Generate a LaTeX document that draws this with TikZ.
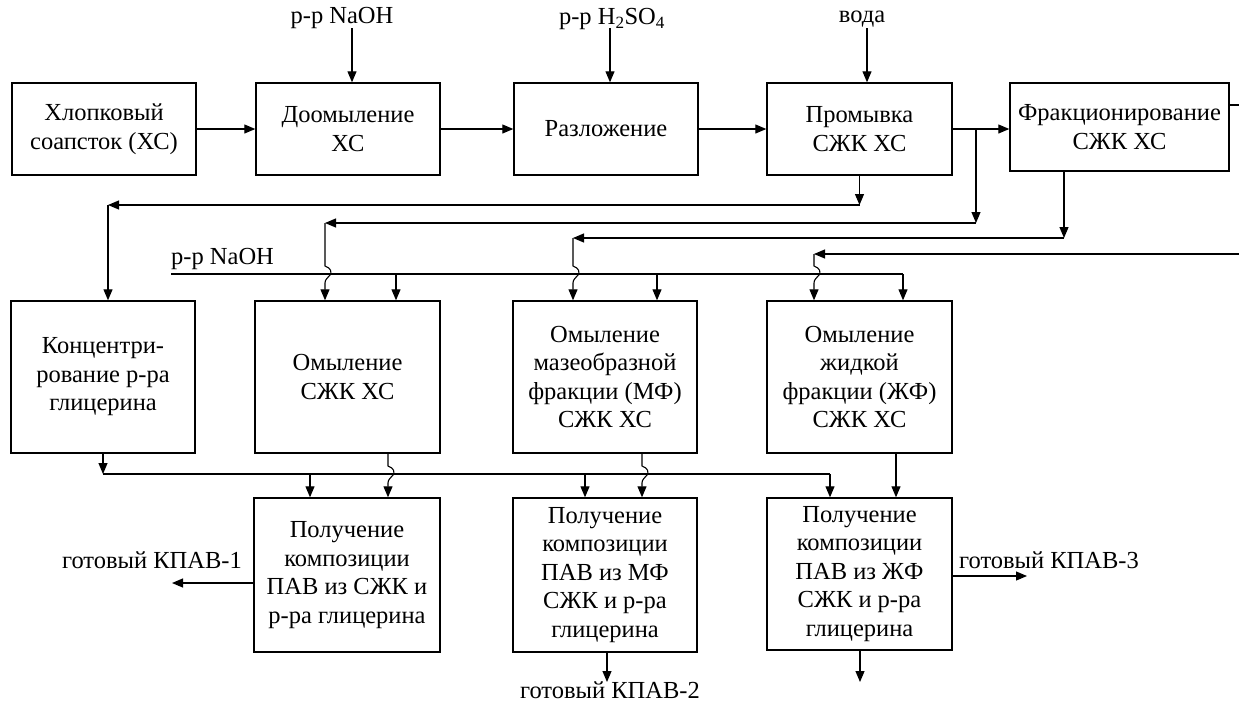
\documentclass[tikz,border=0pt]{standalone}
\usepackage{fontspec}
\setmainfont{Liberation Serif}
\usetikzlibrary{arrows.meta}
\newcommand\myhop[2]{-- (#1,#2-8) .. controls (#1+6,#2-6) and (#1+7,#2-2) .. (#1+5,#2+1) .. controls (#1+3,#2+4) and (#1,#2+5) .. (#1,#2+9)}
\tikzset{
  box/.style={draw, line width=1.4pt, align=center, inner sep=0pt, font=\fontsize{24.5}{28.5}\selectfont},
  arr/.style={-{Triangle[length=11pt,width=9pt]}, line width=1.1pt},
  ln/.style={line width=1.1pt},
  lbl/.style={font=\fontsize{24.5}{28.5}\selectfont, inner sep=0pt},
}
\begin{document}
\begin{tikzpicture}[x=1pt,y=-1pt]
\useasboundingbox (0,0) rectangle (1239,702);
% row 1
\node[box, minimum width=184pt, minimum height=92pt] (b1) at (104,129) {Хлопковый\\соапсток (ХС)};
\node[box, minimum width=184pt, minimum height=92pt] (b2) at (348,129) {Доомыление\\ХС};
\node[box, minimum width=184pt, minimum height=92pt] (b3) at (606,129) {Разложение};
\node[box, minimum width=185pt, minimum height=92pt] (b4) at (859.5,129) {Промывка\\СЖК ХС};
\node[box, minimum width=219pt, minimum height=88pt] (b5) at (1119.5,127) {Фракционирование\\СЖК ХС};
% row 2
\node[box, minimum width=184pt, minimum height=152pt] (c1) at (103,377) {Концентри-\\рование р-ра\\глицерина};
\node[box, minimum width=185pt, minimum height=152pt] (c2) at (347.5,377) {Омыление\\СЖК ХС};
\node[box, minimum width=184pt, minimum height=152pt] (c3) at (605,377) {Омыление\\мазеобразной\\фракции (МФ)\\СЖК ХС};
\node[box, minimum width=185pt, minimum height=152pt] (c4) at (859.5,377) {Омыление\\жидкой\\фракции (ЖФ)\\СЖК ХС};
% row 3
\node[box, minimum width=186pt, minimum height=154pt] (d1) at (347,575) {Получение\\композиции\\ПАВ из СЖК и\\р-ра глицерина};
\node[box, minimum width=184pt, minimum height=154pt] (d2) at (605,575) {Получение\\композиции\\ПАВ из МФ\\СЖК и р-ра\\глицерина};
\node[box, minimum width=185pt, minimum height=152pt] (d3) at (859.5,574) {Получение\\композиции\\ПАВ из ЖФ\\СЖК и р-ра\\глицерина};
% top labels
\node[lbl] (tn) at (342,18) {р-р NaOH};
\node[lbl] (th) at (612,19) {р-р H\textsubscript{2}SO\textsubscript{4}};
\node[lbl] (tv) at (862,19) {вода};
\coordinate (a1) at (352,28);
\coordinate (a2) at (610,28);
\coordinate (a3) at (867,28);
\draw[arr] (a1) -- (a1 |- b2.north);
\draw[arr] (a2) -- (a2 |- b3.north);
\draw[arr] (a3) -- (a3 |- b4.north);
% row 1 flow
\draw[arr] (b1.east) -- (b2.west);
\draw[arr] (b2.east) -- (b3.west);
\draw[arr] (b3.east) -- (b4.west);
\draw[arr] (b4.east) -- (b4.east -| b5.west);
\coordinate (e0) at (1239,105);
\draw[ln] (b5.east |- e0) -- (e0);
% branches
\coordinate (j1) at (976,129);
\coordinate (k1) at (976,223);
\coordinate (k2) at (325,223);
\draw[arr] (j1) -- (k1);
\draw[arr] (k1) -- (k2);
\draw[arr] (k2) \myhop{325}{274} -- (k2 |- c2.north);
\coordinate (m0) at (859.5,205);
\coordinate (m1) at (108,205);
\draw[arr] (b4.south) -- (m0);
\draw[arr] (m0) -- (m1);
\draw[arr] (m1) -- (m1 |- c1.north);
\coordinate (p0) at (1064,171);
\coordinate (p1) at (1064,238);
\coordinate (p2) at (573,238);
\draw[arr] (p0) -- (p1);
\draw[arr] (p1) -- (p2);
\draw[arr] (p2) \myhop{573}{274} -- (p2 |- c3.north);
\coordinate (r0) at (1239,254);
\coordinate (r1) at (814,254);
\draw[arr] (r0) -- (r1);
\draw[arr] (r1) \myhop{814}{274} -- (r1 |- c4.north);
% NaOH line
\coordinate (na0) at (171,274);
\coordinate (na1) at (903,274);
\draw[ln] (na0) -- (na1);
\node[lbl, anchor=south west] (tn2) at (171,270) {р-р NaOH};
\coordinate (n1) at (396,274);
\coordinate (n2) at (657,274);
\draw[arr] (n1) -- (n1 |- c2.north);
\draw[arr] (n2) -- (n2 |- c3.north);
\draw[arr] (na1) -- (na1 |- c4.north);
% bottom collector
\coordinate (g0) at (103,474);
\coordinate (g1) at (830,474);
\draw[arr] (c1.south) -- (g0);
\draw[ln] (g0) -- (g1);
\coordinate (q1) at (310,474);
\coordinate (q2) at (585,474);
\draw[arr] (q1) -- (q1 |- d1.north);
\draw[arr] (q2) -- (q2 |- d2.north);
\draw[arr] (g1) -- (g1 |- d3.north);
\coordinate (s1) at (388,453);
\coordinate (s2) at (642,453);
\coordinate (s3) at (896,453);
\draw[arr] (s1) \myhop{388}{474} -- (s1 |- d1.north);
\draw[arr] (s2) \myhop{642}{474} -- (s2 |- d2.north);
\draw[arr] (s3) -- (s3 |- d3.north);
% outputs
\coordinate (o1) at (172,583);
\draw[arr] (d1.west |- o1) -- (o1);
\node[lbl] (l1) at (152,560) {готовый КПАВ-1};
\coordinate (o2) at (607,682);
\draw[arr] (o2 |- d2.south) -- (o2);
\node[lbl] (l2) at (610,690) {готовый КПАВ-2};
\coordinate (o3) at (860,682);
\draw[arr] (o3 |- d3.south) -- (o3);
\coordinate (o4) at (1027,576);
\draw[arr] (d3.east |- o4) -- (o4);
\node[lbl] (l3) at (1049,560) {готовый КПАВ-3};
\end{tikzpicture}
\end{document}
